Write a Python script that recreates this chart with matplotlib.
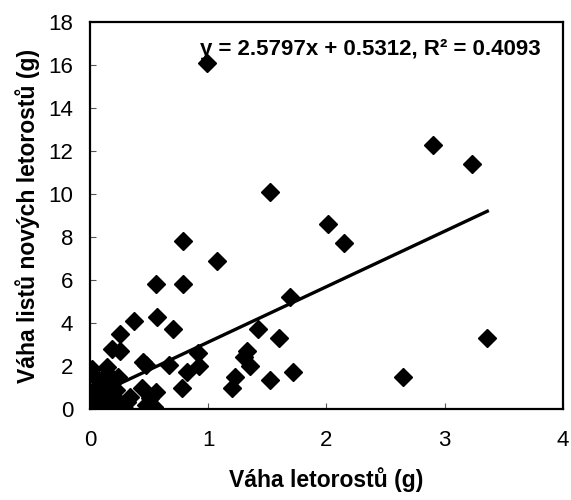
import matplotlib
matplotlib.use("Agg")
import matplotlib.pyplot as plt

plt.rcParams['font.family'] = ['Liberation Sans', 'DejaVu Sans']

# weight of shoots (g) vs. weight of leaves of new shoots (g)
shoot_x = [0.99, 2.90, 3.23, 1.52, 2.01, 2.15, 0.79, 1.07, 0.56, 0.79,
           0.37, 0.57, 0.70, 0.25, 0.19, 0.25, 1.69, 1.42, 1.60, 3.36,
           1.33, 1.30, 1.35, 0.91, 0.92, 0.45, 0.47, 0.67, 0.82, 0.78,
           1.20, 1.23, 1.52, 1.72, 2.65, 0.44, 0.56, 0.51, 0.34, 0.28,
           0.54, 0.47, 0.31, 0.52]
leaf_y = [16.1, 12.3, 11.4, 10.1, 8.6, 7.7, 7.8, 6.9, 5.8, 5.8,
          4.1, 4.3, 3.7, 3.5, 2.8, 2.7, 5.2, 3.7, 3.3, 3.3,
          2.7, 2.4, 2.0, 2.6, 2.0, 2.2, 2.05, 2.05, 1.7, 1.0,
          1.0, 1.5, 1.35, 1.7, 1.5, 0.96, 0.81, 0.5, 0.57, 0.15,
          0.1, 0.19, 0.34, 0.0]

# dense group close to the origin
cluster_x = [0.0, 0.02, 0.03, 0.05, 0.05, 0.07, 0.08, 0.09, 0.10, 0.10,
             0.12, 0.12, 0.13, 0.14, 0.15, 0.15, 0.16, 0.17, 0.18, 0.20,
             0.20, 0.22, 0.24, 0.25, 0.28, 0.30, 0.04, 0.06, 0.11, 0.19]
cluster_y = [0.0, 1.85, 0.3, 0.1, 1.0, 0.6, 0.0, 1.3, 0.2, 0.8,
             0.0, 1.5, 0.4, 1.95, 0.1, 0.7, 1.6, 0.3, 1.1, 0.0,
             0.5, 0.9, 1.5, 0.3, 0.15, 0.0, 0.5, 1.4, 0.0, 0.7]

slope, intercept, r2 = 2.5797, 0.5312, 0.4093

x_all = shoot_x + cluster_x
y_all = leaf_y + cluster_y

fig = plt.figure(figsize=(5.71, 5.0), dpi=100)
ax = fig.add_axes([0.1576, 0.182, 0.8284, 0.774])

ax.plot(x_all, y_all, linestyle='none', marker='D', markersize=9.5,
        color='black', zorder=3)

x_line = [min(x_all), max(x_all)]
ax.plot(x_line, [slope * v + intercept for v in x_line], color='black',
        linewidth=2.4, zorder=4)

ax.text(2.37, 16.72, f"y = {slope}x + {intercept}, R² = {r2}",
        ha='center', va='center', fontsize=16, fontweight='bold')

ax.set_xlim(0, 4)
ax.set_ylim(0, 18)
ax.set_xticks([0, 1, 2, 3, 4])
ax.set_yticks(range(0, 19, 2))
ax.tick_params(direction='in', length=4, width=0.8, color='#555555',
               labelsize=16)
ax.tick_params(axis='x', pad=15)
ax.tick_params(axis='y', pad=12)
for s in ax.spines.values():
    s.set_linewidth(1.6)

ax.set_xlabel("Váha letorostů (g)", fontsize=16.5, fontweight='bold', labelpad=12)
ax.set_ylabel("Váha listů nových letorostů (g)", fontsize=16.5,
              fontweight='bold', labelpad=6)

fig.savefig("out.png", dpi=100, facecolor='white')
